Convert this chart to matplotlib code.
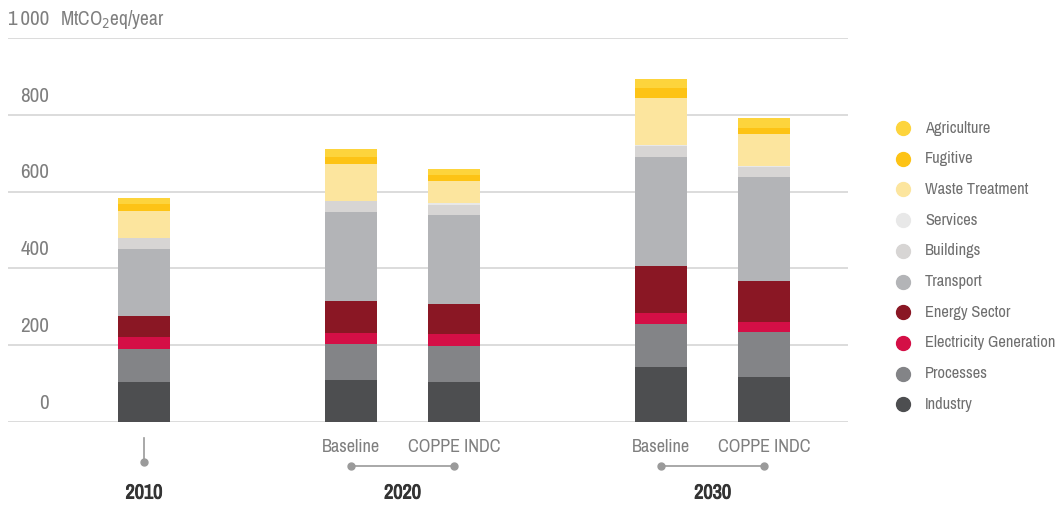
import matplotlib
matplotlib.use("Agg")
import matplotlib.pyplot as plt
from matplotlib.lines import Line2D
from matplotlib import font_manager
import matplotlib.transforms as mtrans
import matplotlib.patheffects as pe
import numpy as np

cond = [f for f in font_manager.fontManager.ttflist
        if "Narrow" in f.name or "Condensed" in f.name]
cond += [f for f in font_manager.fontManager.ttflist
         if f.stretch in ("condensed", "semi-condensed", "extra-condensed")]
if cond:
    FAMILY, STRETCH = cond[0].name, cond[0].stretch
else:
    FAMILY, STRETCH = "Roboto", "normal"
plt.rcParams['font.family'] = [FAMILY, 'DejaVu Sans']
plt.rcParams['font.stretch'] = STRETCH
has_bold = any(f.name == FAMILY and f.weight in ("bold", 700, "700") for f in font_manager.fontManager.ttflist)

# ---- data ----
bar_labels = ["2010", "Baseline 2020", "COPPE INDC 2020", "Baseline 2030", "COPPE INDC 2030"]
bar_pos = [0, 2, 3, 5, 6]
sectors = ["Industry", "Processes", "Electricity Generation", "Energy Sector", "Transport",
           "Buildings", "Services", "Waste Treatment", "Fugitive", "Agriculture"]
industry    = [105, 110, 105, 142, 118]
processes   = [84, 92, 94, 114, 117]
electricity = [32, 29, 29, 29, 26]
energy      = [54, 83, 78, 120, 107]
transport   = [175, 232, 232, 284, 271]
buildings   = [30, 29, 26, 29, 25]
services    = [0, 1, 6, 3, 2]
waste       = [69, 96, 57, 122, 83]
fugitive    = [18, 19, 15, 26, 16]
agriculture = [16, 20, 18, 23, 26]
colors = ["#4d4e50", "#838487", "#d40f46", "#8a1724", "#b3b4b7",
          "#d7d5d4", "#e8e8e8", "#fce59e", "#fdc315", "#fdd43c"]
yticks = [0, 200, 400, 600, 800, 1000]
ytick_labels = ["0", "200", "400", "600", "800", "1\u2009000"]
scen_labels = ["Baseline", "COPPE INDC"]
years = ["2010", "2020", "2030"]
year_pos = [0, 2.5, 5.5]

series = [industry, processes, electricity, energy, transport,
          buildings, services, waste, fugitive, agriculture]

W, H = 1057, 507
fig = plt.figure(figsize=(W / 100, H / 100), dpi=100)
renderer = fig.canvas.get_renderer()


def fitted_size(text, target_px, weight="normal", base=12.0):
    t = fig.text(0, 0, text, fontsize=base, fontweight=weight)
    w = t.get_window_extent(renderer).width
    t.remove()
    return base * target_px / w


fs_tick = fitted_size("800", 29)
fs_unit = fitted_size("MtCO$_2$eq/year", 105)
fs_scen = fitted_size("COPPE INDC", 93)
fs_year = fitted_size("2010", 37, weight="bold")
fs_leg = fitted_size("Electricity Generation", 130)

ax = fig.add_axes([8 / W, 85 / H, 840 / W, 384 / H])
ax.set_xlim(-1.314, 6.81)
ax.set_ylim(0, 1000)
for s in ax.spines.values():
    s.set_visible(False)
ax.set_xticks([])
ax.set_yticks([])
for v in yticks:
    ax.axhline(v, color="#dcdcdc", lw=1.4, zorder=0)

bottom = np.zeros(len(bar_pos))
for vals, c in zip(series, colors):
    ax.bar(bar_pos, vals, width=0.5, bottom=bottom, color=c, zorder=2, linewidth=0)
    bottom += np.array(vals)

tcol = "#7f7f7f"
for v, lab in zip(yticks, ytick_labels):
    ax.annotate(lab, xy=(41 / 840, v), xycoords=("axes fraction", "data"),
                xytext=(0, 13.5), textcoords="offset points", ha="right", va="center",
                fontsize=fs_tick, color=tcol)
ax.annotate("MtCO$_2$eq/year", xy=(52 / 840, 1000), xycoords=("axes fraction", "data"),
            xytext=(0, 13.5), textcoords="offset points", ha="left", va="center",
            fontsize=fs_unit, color=tcol)

# bottom annotations
lc = "#9a9a9a"
pix = mtrans.IdentityTransform()
btp = mtrans.blended_transform_factory(ax.transData, pix)
for i, p in enumerate(bar_pos[1:]):
    ax.annotate(scen_labels[i % 2], xy=(p, 60), xycoords=("data", "figure pixels"),
                ha="center", va="center", fontsize=fs_scen, color=tcol, annotation_clip=False)
fig.add_artist(Line2D([bar_pos[0], bar_pos[0]], [69, 45], transform=btp, color=lc, lw=1.2))
fig.add_artist(Line2D([bar_pos[0]], [45], transform=btp, marker="o", ms=5, color=lc, lw=0))
for a, b in [(bar_pos[1], bar_pos[2]), (bar_pos[3], bar_pos[4])]:
    fig.add_artist(Line2D([a, b], [41, 41], transform=btp, color=lc, lw=1.2))
    fig.add_artist(Line2D([a, b], [41, 41], transform=btp, color=lc, lw=0, marker="o", ms=5))
yc = "#333333"
peff = [] if has_bold else [pe.withStroke(linewidth=0.7, foreground=yc)]
for y, p in zip(years, year_pos):
    ax.annotate(y, xy=(p, 14), xycoords=("data", "figure pixels"), ha="center", va="center",
                fontsize=fs_year, fontweight="bold", color=yc, annotation_clip=False,
                path_effects=peff)

# legend
leg_y0 = H - 128
for k, (name, c) in enumerate(zip(sectors[::-1], colors[::-1])):
    y = leg_y0 - k * 30.7
    fig.add_artist(Line2D([903], [y], transform=pix, marker="o", ms=10, color=c, lw=0))
    fig.text(925 / W, y / H, name, ha="left", va="center", fontsize=fs_leg, color="#6f6f6f")

fig.savefig("out.png", dpi=100)
